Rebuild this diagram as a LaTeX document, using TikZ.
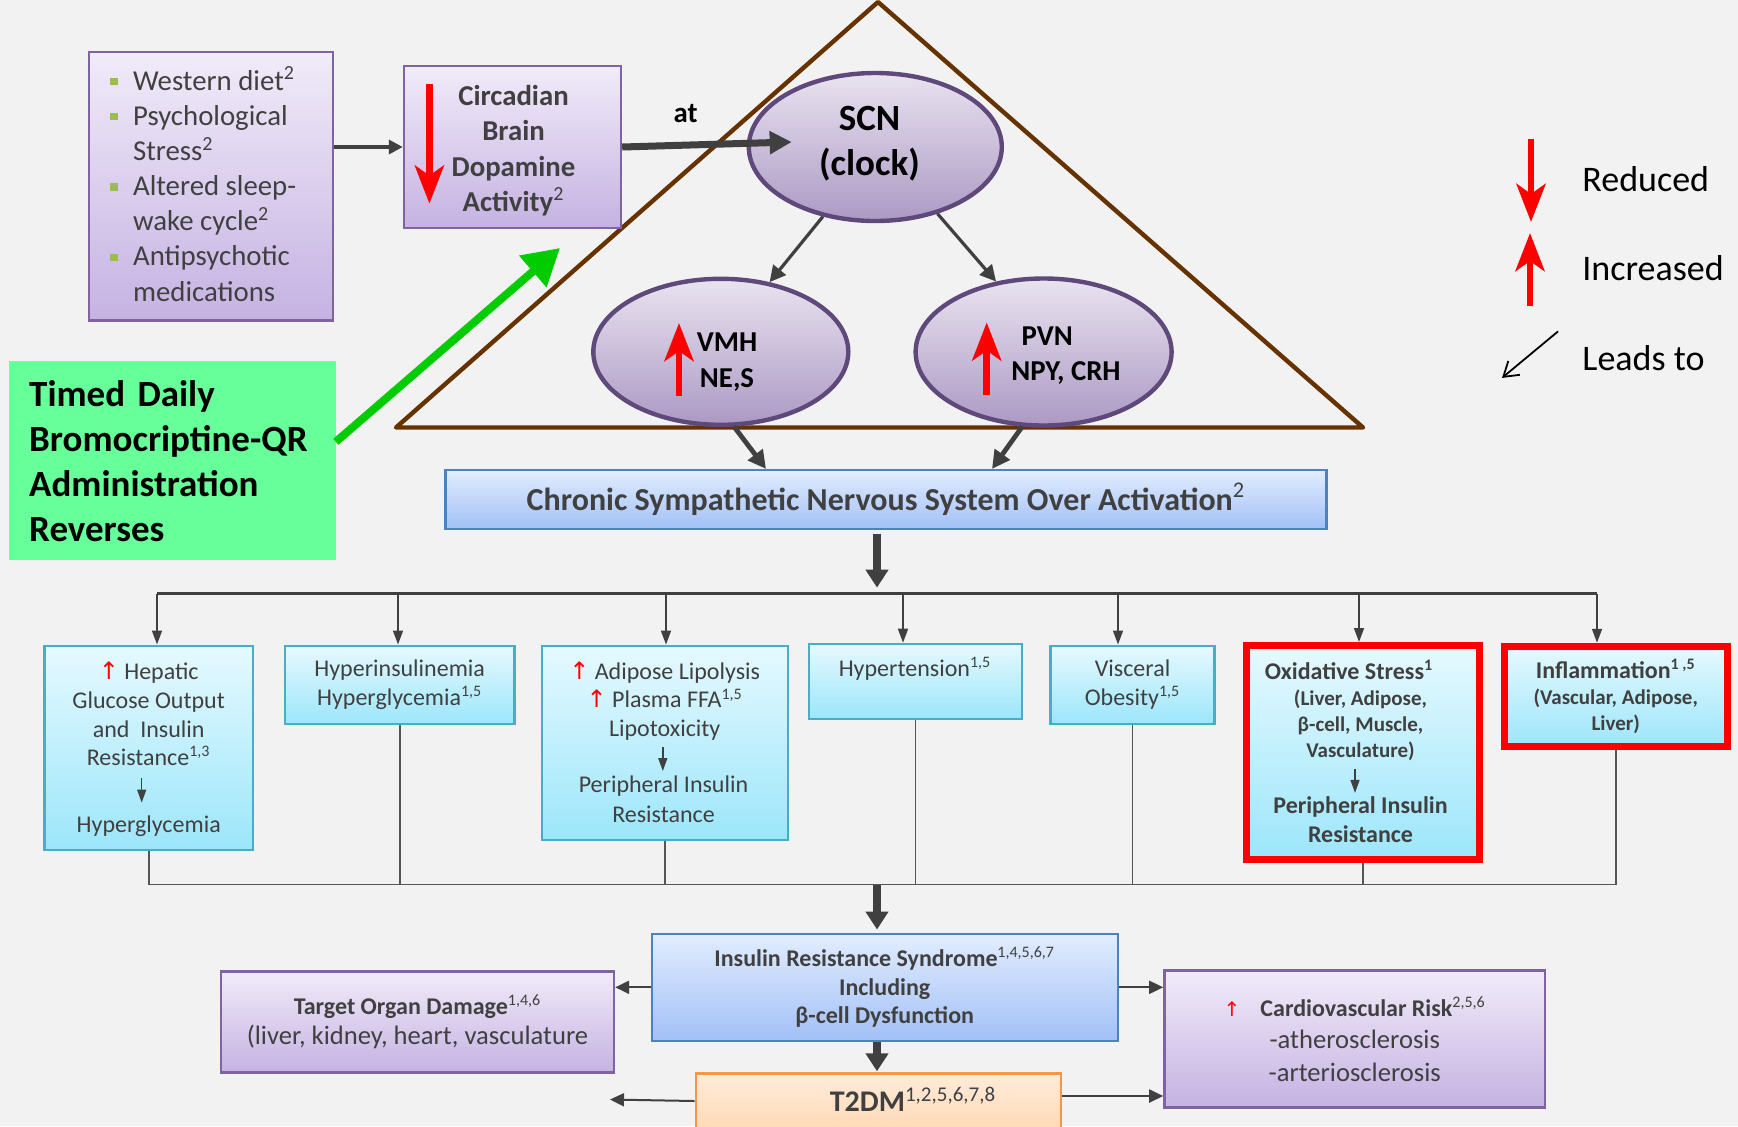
\documentclass[tikz,border=0pt]{standalone}
\usepackage{fontspec}
\setmainfont{Carlito}
\newfontfamily\arrowfont{DejaVu Sans}
\usetikzlibrary{arrows.meta,shapes.geometric,calc}
\definecolor{bg}{HTML}{F2F2F2}
\definecolor{txt}{HTML}{404040}
\definecolor{conn}{HTML}{404040}
\definecolor{collc}{HTML}{555555}
\definecolor{purpT}{HTML}{F1EBF9}
\definecolor{purpB}{HTML}{C5B2E2}
\definecolor{purpD}{HTML}{8064A2}
\definecolor{ellT}{HTML}{E9E3F0}
\definecolor{ellB}{HTML}{AC99C4}
\definecolor{ellD}{HTML}{5F497A}
\definecolor{blueT}{HTML}{E2EDFF}
\definecolor{blueB}{HTML}{A2C0F6}
\definecolor{blueD}{HTML}{4F81BD}
\definecolor{cyanT}{HTML}{E6F9FF}
\definecolor{cyanB}{HTML}{9CE6FA}
\definecolor{cyanD}{HTML}{4BACC6}
\definecolor{orT}{HTML}{FFEBDA}
\definecolor{orB}{HTML}{FFC68F}
\definecolor{orD}{HTML}{F79646}
\definecolor{greenbox}{HTML}{66FF99}
\definecolor{greenarr}{HTML}{00CC00}
\definecolor{brownline}{HTML}{663300}
\definecolor{bulletg}{HTML}{9BBB59}
\newcommand\fsz[2]{\fontsize{#1}{#2}\selectfont}
\newcommand\bul{\textcolor{bulletg}{\rule[2.6pt]{3.6pt}{3.6pt}}}
\newcommand\redup{{\arrowfont\color{red}↑}}
\begin{document}
\begin{tikzpicture}[x=0.5pt,y=-0.5pt,
  pbox/.style={rectangle, draw=purpD, line width=1.2pt, top color=purpT, bottom color=purpB, inner sep=0pt},
  ebox/.style={ellipse, draw=ellD, line width=2.2pt, top color=ellT, bottom color=ellB, inner sep=0pt},
  bbox/.style={rectangle, draw=blueD, line width=1.1pt, top color=blueT, bottom color=blueB, inner sep=0pt},
  cbox/.style={rectangle, draw=cyanD, line width=1.1pt, top color=cyanT, bottom color=cyanB, inner sep=0pt},
  rbox/.style={rectangle, draw=red, line width=3.5pt, top color=cyanT, bottom color=cyanB, inner sep=0pt},
  obox/.style={rectangle, draw=orD, line width=1.1pt, top color=orT, bottom color=orB, inner sep=0pt},
  lbl/.style={inner sep=0pt, align=center, text=txt},
  droparr/.style={draw=conn, line width=0.8pt, -{Triangle[length=7pt,width=5pt]}},
  tinyarr/.style={draw=conn, line width=0.7pt, -{Triangle[length=6.5pt,width=4.5pt]}},
  harr/.style={draw=conn, line width=1pt, -{Triangle[length=7pt,width=6.5pt]}},
  bigarr/.style={draw=conn, line width=4pt, -{Triangle[length=9pt,width=11pt]}},
  midarr/.style={draw=conn, line width=1.6pt, -{Triangle[length=8pt,width=8pt]}},
  vmharr/.style={draw=conn, line width=2.4pt, -{Triangle[length=9pt,width=9pt]}},
  redarr/.style={draw=red, line width=3.4pt, -{Stealth[length=19pt,width=14.5pt,inset=5pt]}},
  bus/.style={draw=conn, line width=1.3pt},
  coll/.style={draw=collc, line width=0.9pt}
]
\fill[bg] (0,0) rectangle (1738,1126);
\useasboundingbox (0,0) rectangle (1738,1126);

% triangle
\draw[brownline, line width=2.2pt, line join=round] (878,2) -- (1363,427.5) -- (396,427.5) -- cycle;

% top boxes
\node[pbox, minimum width=122.1pt, minimum height=134.45pt] (list) at (211,186.2) {};
\node[anchor=west, inner sep=0pt, text=txt, font=\fsz{14.4}{17.55}] (listtxt) at (110,188.7) {%
\begin{tabular}{@{}l@{\hspace{7.75pt}}l@{}}
\bul & Western diet\textsuperscript{2}\\
\bul & Psychological\\
 & Stress\textsuperscript{2}\\
\bul & Altered sleep-\\
 & wake cycle\textsuperscript{2}\\
\bul & Antipsychotic\\
 & medications
\end{tabular}};

\node[pbox, minimum width=108.5pt, minimum height=81pt] (circ) at (512.5,147) {};
\node[lbl, font=\bfseries\fsz{14.4}{17.7}] (circtxt) at (513.5,150.5) {Circadian\\Brain\\Dopamine\\Activity\textsuperscript{\mdseries 2}};

\node[ebox, minimum width=126.5pt, minimum height=74pt] (scn) at (875.3,147) {};
\node[inner sep=0pt, align=center, font=\bfseries\fsz{18.5}{22.5}] (scntxt) at (869.5,144) {SCN\\(clock)};
\node[ebox, minimum width=127.5pt, minimum height=73pt] (vmh) at (720.8,351.8) {};
\node[ebox, minimum width=128pt, minimum height=73.5pt] (pvn) at (1043.6,352) {};
\node[inner sep=0pt, align=center, font=\bfseries\fsz{14.4}{18.3}] (vmhtxt) at (727,362) {VMH\\NE,S};
\node[inner sep=0pt, align=center, font=\bfseries\fsz{14.4}{17.5}] (pvntxt) at (1066,356) {PVN\rule{18.8pt}{0pt}\\NPY, CRH};

\node[inner sep=0pt, font=\bfseries\fsz{14.4}{17}] (atlbl) at (685.5,114) {at};

% green box
\node[rectangle, fill=greenbox, minimum width=163.3pt, minimum height=99.3pt, text width=143pt, inner xsep=10pt, inner ysep=0pt, align=left, font=\bfseries\fsz{18.5}{22.5}] (green) at (172.2,460.7) {Timed Daily\\\mbox{Bromocriptine-QR}\\Administration\\Reverses};

% chronic
\node[bbox, minimum width=440.5pt, minimum height=29.3pt, text=txt, font=\bfseries\fsz{16}{18}] (chronic) at (886,499.3) {Chronic Sympathetic Nervous System Over Activation\textsuperscript{\mdseries 2}};

% legend
\node[anchor=west, inner sep=0pt, font=\fsz{18}{20}] (lred) at (1582,179) {Reduced};
\node[anchor=west, inner sep=0pt, font=\fsz{18}{20}] (linc) at (1582,268.5) {Increased};
\node[anchor=west, inner sep=0pt, font=\fsz{18}{20}] (llead) at (1582,358) {Leads to};
\draw[redarr] (1531,138.6) -- (1531,222);
\draw[redarr] (1530,306) -- (1530,233);
\draw[black, line width=0.9pt, -{Straight Barb[length=7pt,width=9pt]}] (1558,331.4) -- (1502,377.9);

% red arrows in boxes
\draw[redarr] (429.4,84) -- (429.4,203.6);
\draw[redarr] (679,396) -- (679,323);
\draw[redarr] (986.7,394.6) -- (986.7,322.5);

% top connectors
\draw[draw=conn, line width=1.7pt, -{Triangle[length=7pt,width=7pt]}] (list.east |- circ.west) -- (circ.west);
\coordinate (scntip) at (791.7,142);
\draw[draw=conn, line width=3.5pt, -{Triangle[length=11pt,width=11pt]}] (circ.east) -- (scntip);
\draw[midarr] (scn.233) -- (vmh.55);
\draw[midarr] (scn.313) -- (pvn.124);
\draw[vmharr] (vmh.280) -- ([xshift=-60pt]chronic.north);
\draw[vmharr] (pvn.254) -- ([xshift=53pt]chronic.north);
\coordinate (gtip) at (560,248);
\draw[greenarr, line width=4pt, -{Triangle[length=18pt,width=20pt]}] ([yshift=9.45pt]green.east) -- (gtip);

% middle row boxes
\node[cbox, minimum width=104.3pt, minimum height=102.2pt] (hep) at (148.7,747.8) {};
\node[cbox, minimum width=114.7pt, minimum height=39.2pt, text=txt, align=center, font=\fsz{12}{14.3}] (hins) at (399.7,684.8) {Hyperinsulinemia\\Hyperglycemia\textsuperscript{1,5}};
\node[cbox, minimum width=123pt, minimum height=97pt] (adip) at (664.7,742.7) {};
\node[cbox, minimum width=106.2pt, minimum height=37.5pt] (hyper) at (915.5,681.3) {};
\node[cbox, minimum width=82pt, minimum height=39.2pt, text=txt, align=center, font=\fsz{12}{14.3}] (visc) at (1132.5,684.8) {Visceral\\Obesity\textsuperscript{1,5}};
\node[rbox, minimum width=116.5pt, minimum height=106.75pt] (oxid) at (1363,752.25) {};
\node[rbox, minimum width=111.75pt, minimum height=50.25pt, text=txt, align=center, font=\bfseries\fsz{10.5}{13}] (infl) at (1615.75,696.5) {{\fsz{12}{13}Inflammation\textsuperscript{1 ,5}}\\(Vascular, Adipose,\\Liver)};

\node[lbl, font=\fsz{12}{14.3}] (hepup) at (148.7,714) {\redup{} Hepatic\\Glucose Output\\and\ \ Insulin\\Resistance\textsuperscript{1,3}};
\node[lbl, font=\fsz{12}{14.3}] (heplow) at (148.7,826) {Hyperglycemia};
\coordinate (ha1) at (141.7,778.4);
\coordinate (ha2) at (141.7,802.6);
\draw[tinyarr] (ha1) -- (ha2);

\node[lbl, font=\fsz{12}{14.3}] (adup) at (664.7,701) {\redup{} Adipose Lipolysis\\\redup{} Plasma FFA\textsuperscript{1,5}\\Lipotoxicity};
\node[lbl, font=\fsz{12}{15}] (adlow) at (663.5,799.5) {Peripheral Insulin\\Resistance};
\coordinate (aa1) at (662.8,746.6);
\coordinate (aa2) at (662.8,771);
\draw[tinyarr] (aa1) -- (aa2);

\node[lbl, font=\fsz{12}{14.3}] (hypertxt) at (915,669) {Hypertension\textsuperscript{1,5}};

\node[lbl, font=\bfseries\fsz{10.5}{13}] (oxup) at (1360.5,710.5) {{\fsz{12}{13}Oxidative Stress\textsuperscript{1}}\rule{11.5pt}{0pt}\\(Liver, Adipose,\\β-cell, Muscle,\\Vasculature)};
\node[lbl, font=\bfseries\fsz{12}{14.8}] (oxlow) at (1360.5,819.5) {Peripheral Insulin\\Resistance};
\coordinate (oa1) at (1355,768.7);
\coordinate (oa2) at (1355,792.9);
\draw[tinyarr] (oa1) -- (oa2);

% bus and drops
\coordinate (busc) at (877,593.6);
\coordinate (d1) at (157,593.6);
\coordinate (d2) at (398,593.6);
\coordinate (d3) at (666,593.6);
\coordinate (d4) at (903,593.6);
\coordinate (d5) at (1118,593.6);
\coordinate (d6) at (1359,593.6);
\coordinate (d7) at (1597,593.6);
\draw[bigarr, shorten <=2pt, shorten >=3pt] (busc |- chronic.south) -- (busc);
\draw[bus] (d1) -- (d7);
\draw[droparr] (d1) -- (d1 |- hep.north);
\draw[droparr] (d2) -- (d2 |- hins.north);
\draw[droparr] (d3) -- (d3 |- adip.north);
\draw[droparr] (d4) -- (d4 |- hyper.north);
\draw[droparr] (d5) -- (d5 |- visc.north);
\draw[droparr] (d6) -- (d6 |- oxid.north);
\draw[droparr] (d7) -- (d7 |- infl.north);

% collection line
\coordinate (collc) at (877,884.5);
\draw[coll] (hep.south) -- (hep.south |- collc) -- (infl.south |- collc) -- (infl.south);
\draw[coll] (hins.south) -- (hins.south |- collc);
\draw[coll] (adip.south) -- (adip.south |- collc);
\draw[coll] (hyper.south) -- (hyper.south |- collc);
\draw[coll] (visc.south) -- (visc.south |- collc);
\draw[coll] (oxid.south) -- (oxid.south |- collc);

% bottom boxes
\node[bbox, minimum width=233pt, minimum height=53.7pt, text=txt, align=center, font=\bfseries\fsz{12}{14.3}] (ir) at (884.7,987.3) {Insulin Resistance Syndrome\textsuperscript{\mdseries 1,4,5,6,7}\\Including\\β-cell Dysfunction};
\node[pbox, minimum width=196.5pt, minimum height=50.5pt, text=txt, align=center, font=\fsz{13.3}{15}] (target) at (417.5,1022) {{\bfseries\fsz{12}{15}Target Organ Damage\textsuperscript{\mdseries 1,4,6}}\\(liver, kidney, heart, vasculature};
\node[pbox, minimum width=190.3pt, minimum height=68.6pt, text=txt, align=center, font=\fsz{13.3}{16.25}] (cv) at (1354.7,1039) {{\arrowfont\fsz{10}{12}\color{red}↑}\hspace{10pt}{\bfseries\fsz{12}{16.25}Cardiovascular Risk\textsuperscript{\mdseries 2,5,6}}\\-atherosclerosis\\-arteriosclerosis};
\node[obox, minimum width=182.5pt, minimum height=60pt] (t2dm) at (878.1,1133.4) {};
\node[lbl, font=\bfseries\fsz{15}{17}] (t2dmtxt) at (913,1099.5) {T2DM\textsuperscript{\mdseries 1,2,5,6,7,8}};

\draw[bigarr, shorten >=1.5pt] (collc) -- (collc |- ir.north);
\draw[bigarr, shorten >=0.5pt] (collc |- ir.south) -- (collc |- t2dm.north);
\draw[harr] (ir.west) -- (target.east |- ir.west);
\draw[harr] (ir.east) -- (cv.west |- ir.east);
\coordinate (t2l) at (610,1099.5);
\coordinate (t2y) at (700,1101);
\draw[harr] (t2dm.west |- t2y) -- (t2l);
\coordinate (t2c) at (1100,1096);
\draw[harr] (t2dm.east |- t2c) -- (cv.west |- t2c);
\end{tikzpicture}
\end{document}
